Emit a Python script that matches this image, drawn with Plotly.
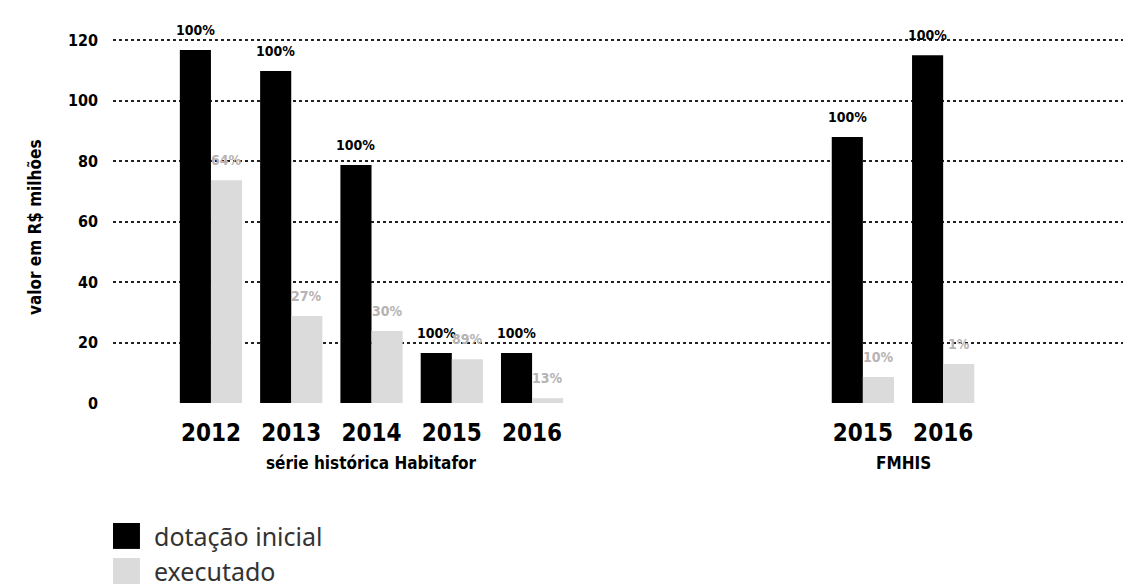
import plotly.graph_objects as go

# ---- data ----
anos_habitafor = ["2012", "2013", "2014", "2015", "2016"]
anos_fmhis = ["2015", "2016"]
dotacao_habitafor = [116.7, 109.8, 78.7, 16.5, 16.5]
executado_habitafor = [73.7, 28.8, 23.8, 14.5, 1.6]
dotacao_fmhis = [88.0, 115.0]
executado_fmhis = [8.6, 12.9]
pct_dotacao_habitafor = ["100%", "100%", "100%", "100%", "100%"]
pct_executado_habitafor = ["64%", "27%", "30%", "89%", "13%"]
pct_dotacao_fmhis = ["100%", "100%"]
pct_executado_fmhis = ["10%", "1%"]
grupos = ["série histórica Habitafor", "FMHIS"]
series = ["dotação inicial", "executado"]
yticks = [0, 20, 40, 60, 80, 100, 120]

# ---- style helpers ----
COND = "DejaVu Sans Condensed, Liberation Sans Narrow, Arial Narrow, sans-serif"
LEG = "Noto Sans, Lato, sans-serif"
BLACK = "#000000"
GREY = "#dcdbdc"
GREY_TXT = "#b7b3b3"
BARGAP = 0.225
fmhis_offset = 8.12

pos_h = list(range(len(anos_habitafor)))
pos_f = [fmhis_offset + i for i in range(len(anos_fmhis))]
pos_all = pos_h + pos_f
anos_all = anos_habitafor + anos_fmhis
dot_all = dotacao_habitafor + dotacao_fmhis
exe_all = executado_habitafor + executado_fmhis
pct_dot_all = pct_dotacao_habitafor + pct_dotacao_fmhis
pct_exe_all = pct_executado_habitafor + pct_executado_fmhis

fig = go.Figure()
fig.add_trace(go.Bar(x=pos_all, y=dot_all, name=series[0], marker_color=BLACK,
                     marker_line_width=0, showlegend=False))
fig.add_trace(go.Bar(x=pos_all, y=exe_all, name=series[1], marker_color=GREY,
                     marker_line_width=0, showlegend=False))

bw = (1 - BARGAP) / 2
annotations = []
for p, v, t in zip(pos_all, dot_all, pct_dot_all):
    annotations.append(dict(x=p - bw / 2, y=v, text=t, showarrow=False, yanchor="bottom",
                            yshift=10, font=dict(family=COND, size=14, color=BLACK, weight="bold")))
for p, v, t in zip(pos_all, exe_all, pct_exe_all):
    annotations.append(dict(x=p + bw / 2, y=v, text=t, showarrow=False, yanchor="bottom",
                            yshift=10, font=dict(family=COND, size=14, color=GREY_TXT, weight="bold")))

# group labels
for name, ps in zip(grupos, [pos_h, pos_f]):
    annotations.append(dict(x=sum(ps) / len(ps), xref="x", y=-0.157, yref="paper", text=name,
                            showarrow=False, yanchor="middle",
                            font=dict(family=COND, size=17, color=BLACK, weight="bold")))

# y title
annotations.append(dict(x=-0.089, xref="paper", y=0.462, yref="paper", text="valor em R$ milhões",
                        textangle=-90, showarrow=False,
                        font=dict(family=COND, size=17, color=BLACK, weight="bold")))

# legend (large swatches), drawn in paper coordinates below the plot
shapes = []
leg_cols = [BLACK, GREY]
leg_y = [-0.349, -0.441]
for nm, col, yc in zip(series, leg_cols, leg_y):
    shapes.append(dict(type="rect", xref="paper", yref="paper", x0=0.0, x1=0.0267,
                       y0=yc - 0.034, y1=yc + 0.034, fillcolor=col, line_width=0))
    annotations.append(dict(x=0.0386, xref="paper", y=yc, yref="paper", text=nm,
                            xanchor="left", yanchor="middle", showarrow=False,
                            font=dict(family=LEG, size=25, color="#333333")))

fig.update_layout(
    width=1123, height=588,
    margin=dict(l=113, r=0, t=22, b=185, autoexpand=False),
    paper_bgcolor="white", plot_bgcolor="white",
    barmode="group", bargap=BARGAP, bargroupgap=0,
    annotations=annotations,
    shapes=shapes,
    showlegend=False,
    xaxis=dict(range=[-1.22, 11.36], tickmode="array", tickvals=pos_all, ticktext=anos_all,
               showgrid=False, zeroline=False, showline=False, ticks="",
               ticklabelstandoff=13, automargin=False,
               tickfont=dict(family=COND, size=24, color=BLACK, weight="bold")),
    yaxis=dict(range=[0, 126], tickmode="array", tickvals=yticks,
               showgrid=True, gridcolor="#222222", griddash="dot", gridwidth=1.5,
               zeroline=False, showline=False, ticks="", ticklabelstandoff=14, automargin=False,
               tickfont=dict(family=COND, size=16, color=BLACK, weight="bold")),
)

fig.write_html("out.html", config={"displayModeBar": False},
               post_script="document.body.style.margin='0';document.body.style.overflow='hidden';")
